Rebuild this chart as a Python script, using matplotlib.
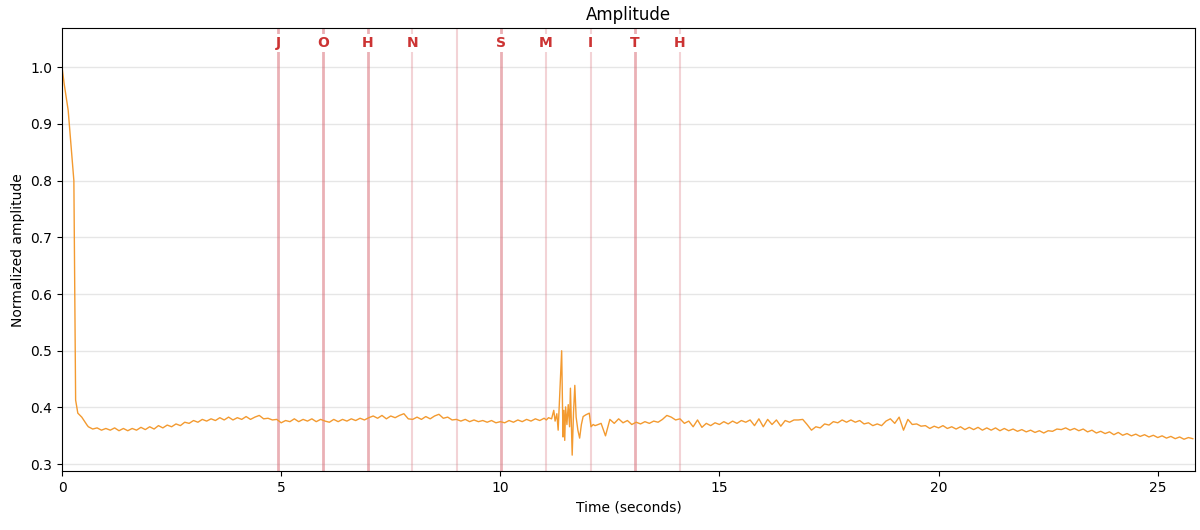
import numpy as np
import matplotlib

matplotlib.use('Agg')
import matplotlib.pyplot as plt

# --- data ---
# initial decay (explicit time / value pairs)
t_start = [0.0, 0.05, 0.14, 0.27, 0.31, 0.36, 0.45, 0.57]
v_start = [1.0, 0.97, 0.924, 0.80, 0.413, 0.39, 0.383, 0.369]

# steady part before the burst, sampled every 0.1 s from 0.6 s
step = 0.1
t0_pre = 0.6
v_pre = [
    0.366, 0.362, 0.364, 0.360, 0.363, 0.360, 0.364, 0.359, 0.363, 0.359,
    0.363, 0.360, 0.365, 0.361, 0.366, 0.362, 0.368, 0.364, 0.369, 0.366,
    0.371, 0.368, 0.374, 0.372, 0.377, 0.374, 0.379, 0.376, 0.380, 0.377,
    0.382, 0.378, 0.383, 0.378, 0.382, 0.379, 0.384, 0.379, 0.383, 0.386,
    0.380, 0.381, 0.378, 0.379, 0.373, 0.377, 0.375, 0.380, 0.375, 0.379,
    0.376, 0.380, 0.375, 0.379, 0.376, 0.374, 0.379, 0.375, 0.379, 0.376,
    0.380, 0.377, 0.381, 0.378, 0.382, 0.385, 0.381, 0.386, 0.380, 0.385,
    0.382, 0.386, 0.389, 0.380, 0.379, 0.383, 0.379, 0.384, 0.380, 0.385,
    0.388, 0.381, 0.383, 0.378, 0.379, 0.376, 0.379, 0.375, 0.378, 0.375,
    0.377, 0.374, 0.377, 0.373, 0.375, 0.373, 0.377, 0.374, 0.378, 0.375,
    0.379, 0.376, 0.380, 0.377, 0.381,
]

# the burst around 11-12 s
t_burst = [11.05, 11.10, 11.17, 11.22, 11.25, 11.29, 11.32, 11.36, 11.40, 11.43,
           11.45, 11.47, 11.49, 11.52, 11.55, 11.58, 11.60, 11.64, 11.67, 11.70,
           11.73, 11.77, 11.81, 11.85, 11.89, 11.95, 12.03, 12.07, 12.12, 12.16]
v_burst = [0.378, 0.382, 0.380, 0.395, 0.376, 0.389, 0.360, 0.430, 0.500, 0.348,
           0.395, 0.342, 0.401, 0.370, 0.405, 0.366, 0.434, 0.316, 0.390, 0.439,
           0.383, 0.360, 0.346, 0.370, 0.384, 0.387, 0.390, 0.366, 0.370, 0.368]

# after the burst, every 0.1 s from 12.2 s
t0_post = 12.2
v_post = [
    0.369, 0.372, 0.350, 0.379, 0.372, 0.380, 0.373, 0.377, 0.370, 0.374,
    0.371, 0.375, 0.372, 0.376, 0.374, 0.379, 0.386, 0.383, 0.378, 0.380,
    0.372, 0.376, 0.366, 0.378, 0.365, 0.372, 0.368, 0.373, 0.370, 0.375,
    0.371, 0.376, 0.372, 0.377, 0.374, 0.378, 0.368, 0.380, 0.366, 0.379,
    0.370, 0.378, 0.367, 0.377, 0.374, 0.378, 0.378, 0.379, 0.370, 0.360,
    0.366, 0.364, 0.371, 0.369, 0.375, 0.373, 0.378, 0.374, 0.378, 0.374,
    0.377, 0.371, 0.373, 0.368, 0.371, 0.368, 0.376, 0.380, 0.372, 0.383,
    0.360, 0.379, 0.370, 0.371, 0.367, 0.368, 0.363, 0.367, 0.364, 0.368,
    0.363, 0.366, 0.362, 0.366, 0.361, 0.365, 0.361, 0.365, 0.360, 0.364,
    0.360, 0.364, 0.359, 0.363, 0.359, 0.362, 0.358, 0.361, 0.357, 0.360,
    0.356, 0.359, 0.355, 0.359, 0.358, 0.362, 0.361, 0.364, 0.360, 0.363,
    0.359, 0.362, 0.357, 0.360, 0.355, 0.358, 0.354, 0.357, 0.352, 0.356,
    0.351, 0.354, 0.350, 0.353, 0.349, 0.352, 0.348, 0.351, 0.347, 0.350,
    0.346, 0.349, 0.345, 0.348, 0.344, 0.347, 0.345,
]

# letter markers
letter_times = [4.93, 5.95, 6.97, 7.99, 9.01, 10.02, 11.04, 12.06, 13.07, 14.09]
letters = ['J', 'O', 'H', 'N', '', 'S', 'M', 'I', 'T', 'H']
strong = [True, True, True, False, False, True, False, False, True, False]

t_pre = t0_pre + step * np.arange(len(v_pre))
t_post = t0_post + step * np.arange(len(v_post))
t = np.concatenate([t_start, t_pre, t_burst, t_post])
v = np.concatenate([v_start, v_pre, v_burst, v_post])

fig = plt.figure(figsize=(12, 5.3), dpi=100)
ax = fig.add_axes([0.0517, 0.111, 0.9441, 0.836])

ax.grid(axis='y', color='#e6e6e6', linewidth=1)
ax.set_axisbelow(True)

for lt, lab, st in zip(letter_times, letters, strong):
    if st:
        ax.axvline(lt, color='#d9707a', alpha=0.55, linewidth=2, zorder=1)
    else:
        ax.axvline(lt, color='#d9707a', alpha=0.3, linewidth=1.5, zorder=1)
    if lab:
        ax.text(lt, 1.042, lab, ha='center', va='center', color='#cc3333',
                fontweight='bold', fontsize=10, zorder=3,
                bbox=dict(facecolor='white', edgecolor='none', pad=1.5))

ax.plot(t, v, color='#f39a30', linewidth=1, zorder=2)

ax.set_xlim(0, 25.85)
ax.set_ylim(0.2877, 1.069)
ax.set_yticks([0.3, 0.4, 0.5, 0.6, 0.7, 0.8, 0.9, 1.0])
ax.set_title('Amplitude', fontsize=12)
ax.set_xlabel('Time (seconds)')
ax.set_ylabel('Normalized amplitude')

fig.savefig('out.png', dpi=100)
